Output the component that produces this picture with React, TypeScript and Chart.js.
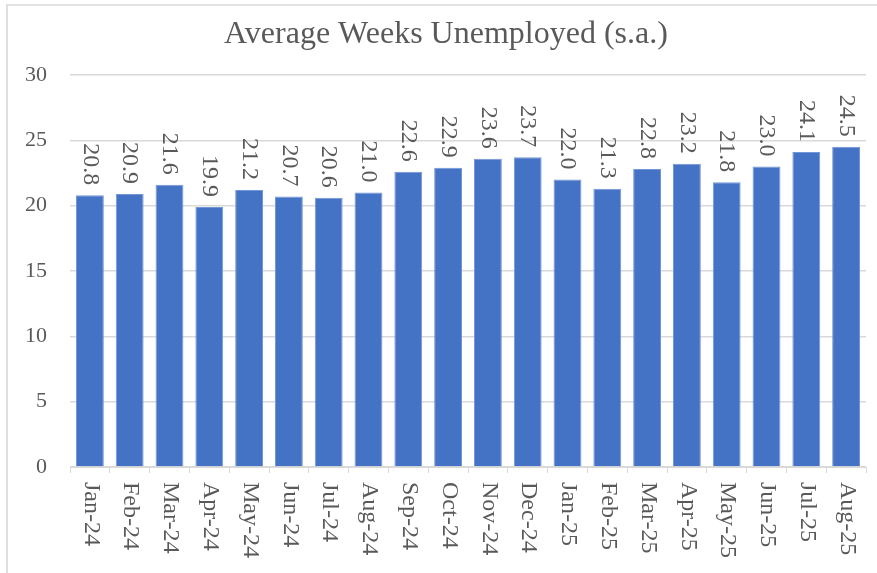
import React, { useEffect, useRef } from "react";
import { Chart, registerables } from "chart.js";

Chart.register(...registerables);

const TITLE = "Average Weeks Unemployed (s.a.)";
const CATEGORIES = [
  "Jan-24", "Feb-24", "Mar-24", "Apr-24", "May-24", "Jun-24", "Jul-24", "Aug-24",
  "Sep-24", "Oct-24", "Nov-24", "Dec-24", "Jan-25", "Feb-25", "Mar-25", "Apr-25",
  "May-25", "Jun-25", "Jul-25", "Aug-25",
];
const WEEKS = [
  20.8, 20.9, 21.6, 19.9, 21.2, 20.7, 20.6, 21.0, 22.6, 22.9, 23.6, 23.7,
  22.0, 21.3, 22.8, 23.2, 21.8, 23.0, 24.1, 24.5,
];
const Y_MIN = 0;
const Y_MAX = 30;
const Y_STEP = 5;

const SERIF = "'Liberation Serif', 'Times New Roman', serif";
const TEXT_COLOR = "#595959";
const GRID_COLOR = "#d9d9d9";
const BAR_COLOR = "#4472C4";

const customText = {
  id: "customText",
  afterDraw(chart: any) {
    const ctx = chart.ctx;
    const xScale = chart.scales.x;
    ctx.save();
    // title
    ctx.fillStyle = TEXT_COLOR;
    ctx.font = `32px ${SERIF}`;
    ctx.textAlign = "center";
    ctx.textBaseline = "alphabetic";
    ctx.fillText(TITLE, 446, 43);

    // x labels rotated +90
    ctx.font = `24px ${SERIF}`;
    ctx.textAlign = "left";
    ctx.textBaseline = "middle";
    CATEGORIES.forEach((lab, i) => {
      const x = xScale.getPixelForValue(i);
      ctx.save();
      ctx.translate(x + 1, xScale.top + 15);
      ctx.rotate(Math.PI / 2);
      ctx.fillText(lab, 0, 0);
      ctx.restore();
    });

    // data labels
    const meta = chart.getDatasetMeta(0);
    ctx.textAlign = "right";
    meta.data.forEach((el: any, i: number) => {
      ctx.save();
      ctx.translate(el.x, el.y - 10);
      ctx.rotate(Math.PI / 2);
      ctx.fillText(WEEKS[i].toFixed(1), 0, 0);
      ctx.restore();
    });
    ctx.restore();
  },
};

export default function App() {
  const ref = useRef<HTMLCanvasElement>(null);
  useEffect(() => {
    if (!ref.current) return;
    const chart = new Chart(ref.current, {
      type: "bar",
      data: {
        labels: CATEGORIES,
        datasets: [
          {
            data: WEEKS,
            backgroundColor: BAR_COLOR,
            borderColor: "#7396d6",
            borderWidth: 1,
            barPercentage: 0.7,
            categoryPercentage: 1,
          },
        ],
      },
      options: {
        animation: false,
        responsive: false,
        layout: { padding: { top: 75, right: 11, left: 0, bottom: 0 } },
        plugins: {
          legend: { display: false },
          title: { display: false },
          tooltip: { enabled: false },
        },
        scales: {
          x: {
            ticks: { display: false },
            grid: {
              offset: true,
              drawOnChartArea: false,
              drawTicks: true,
              tickLength: 6,
              color: GRID_COLOR,
            },
            border: { display: true, color: GRID_COLOR },
            afterFit(scale: any) {
              scale.height = 106;
            },
          },
          y: {
            min: Y_MIN,
            max: Y_MAX,
            ticks: {
              stepSize: Y_STEP,
              color: TEXT_COLOR,
              font: { family: SERIF, size: 22 },
              padding: 23,
            },
            grid: { color: GRID_COLOR, drawTicks: false, lineWidth: 1.5 },
            border: { display: false },
            afterFit(scale: any) {
              scale.width = 70;
            },
          },
        },
      },
      plugins: [customText],
    });
    return () => chart.destroy();
  }, []);

  return (
    <div style={{ position: "fixed", left: 0, top: 0, width: 877, height: 573, background: "#fff" }}>
      <div
        style={{
          position: "absolute",
          left: 6,
          top: 4,
          right: 0,
          bottom: 0,
          borderLeft: "2px solid #dedede",
          borderTop: "2px solid #e3e3e3",
        }}
      />
      <canvas ref={ref} width={877} height={573} style={{ position: "absolute", left: 0, top: 0 }} />
    </div>
  );
}
